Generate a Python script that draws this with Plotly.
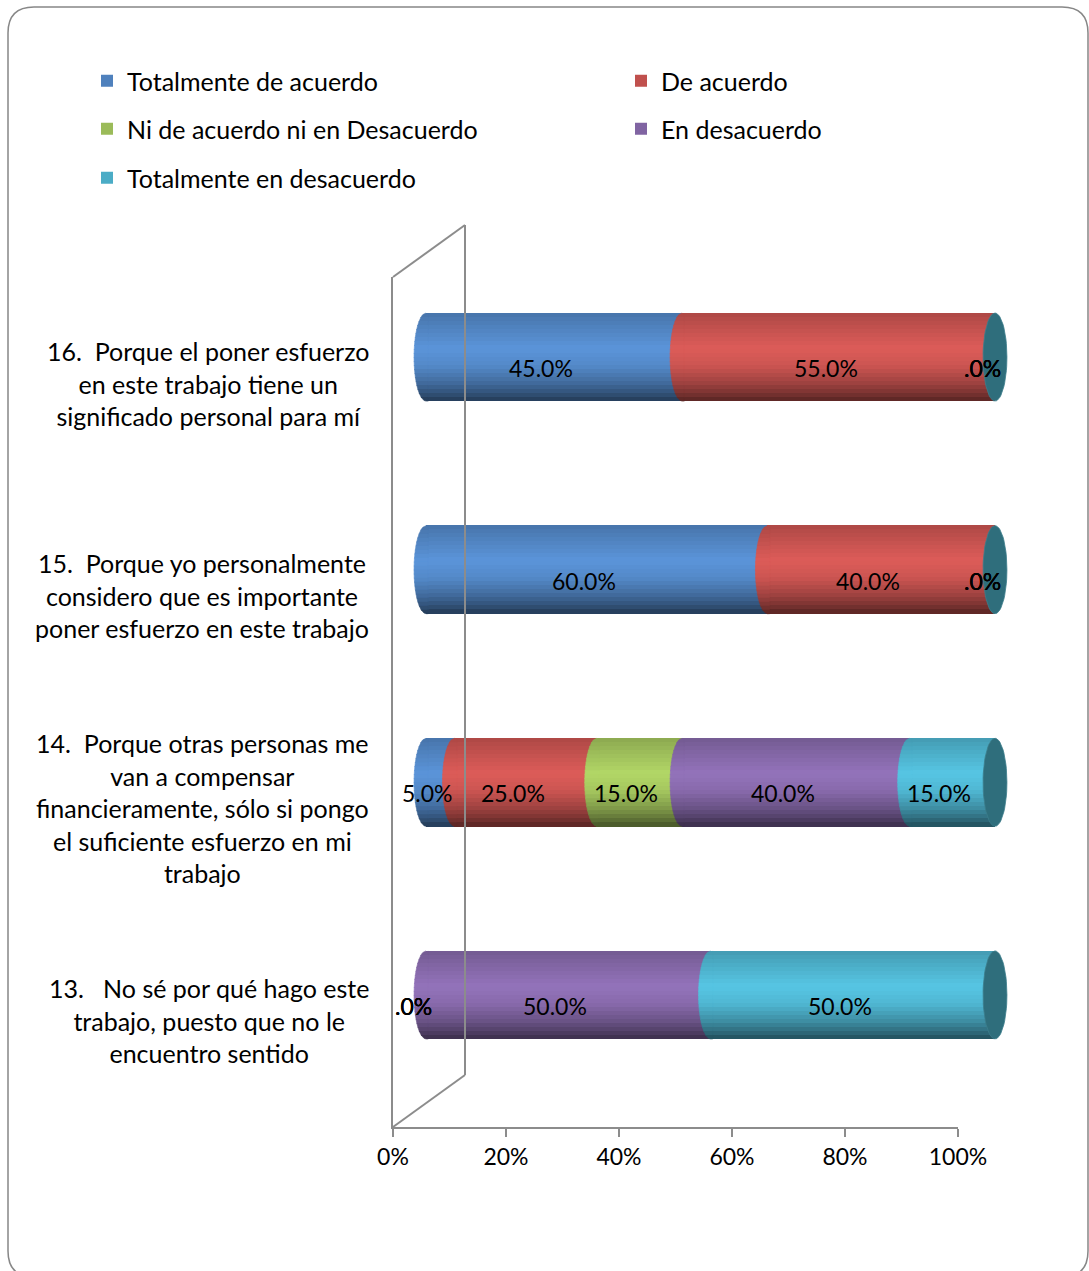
import math
import plotly.graph_objects as go

# ---- data -------------------------------------------------------------
categories = [
    "13.   No sé por qué hago este<br>trabajo, puesto que no le<br>encuentro sentido",
    "14.  Porque otras personas me<br>van a compensar<br>financieramente, sólo si pongo<br>el suficiente esfuerzo en mi<br>trabajo",
    "15.  Porque yo personalmente<br>considero que es importante<br>poner esfuerzo en este trabajo",
    "16.  Porque el poner esfuerzo<br>en este trabajo tiene un<br>significado personal para mí",
]
series_names = [
    "Totalmente de acuerdo",
    "De acuerdo",
    "Ni de acuerdo ni en Desacuerdo",
    "En desacuerdo",
    "Totalmente en desacuerdo",
]
totalmente_de_acuerdo = [0, 5, 60, 45]
de_acuerdo = [0, 25, 40, 55]
ni_de_acuerdo = [0, 15, 0, 0]
en_desacuerdo = [50, 40, 0, 0]
totalmente_en_desacuerdo = [50, 15, 0, 0]
series_values = [totalmente_de_acuerdo, de_acuerdo, ni_de_acuerdo,
                 en_desacuerdo, totalmente_en_desacuerdo]
x_ticks = [0, 20, 40, 60, 80, 100]

# ---- style ------------------------------------------------------------
W, H = 1089, 1271
FONT = "Lato"
base_colors = ["#4F81BD", "#C0504D", "#9BBB59", "#8064A2", "#4BACC6"]
cap_color = "#2F6E7C"
axis_grey = "#8C8C8C"
BAR_W = 0.414          # cylinder thickness in category units
N_BANDS = 22           # horizontal shading bands of each cylinder
CAP_A = 2.1            # half-width of the end ellipses, in % units
PAD = 4                # room (in % units) for the rounded ends


def px(x):
    return x / W


def py(y):
    return 1 - y / H


def hex_rgb(h):
    h = h.lstrip("#")
    return [int(h[i:i + 2], 16) for i in (0, 2, 4)]


# brightness profile across the cylinder, top (0) -> bottom (1)
profile = [(0.0, 0.90), (0.15, 1.0), (0.40, 1.15), (0.60, 1.06),
           (0.80, 0.82), (0.92, 0.62), (1.0, 0.45)]


def shade(color, t):
    k = 1.0
    for (t0, k0), (t1, k1) in zip(profile, profile[1:]):
        if t0 <= t <= t1:
            k = k0 + (k1 - k0) * (t - t0) / (t1 - t0)
            break
    r, g, b = [min(255, int(round(c * k))) for c in hex_rgb(color)]
    return f"rgb({r},{g},{b})"


# cumulative starts of every segment
starts = []
running = [0] * len(categories)
for vals in series_values:
    starts.append(list(running))
    running = [r + v for r, v in zip(running, vals)]
totals = running
cat_pos = list(range(len(categories)))

fig = go.Figure()

# full-height base bars (also the legend entries)
legend_ids = ["legend", "legend2", "legend3", "legend4", "legend5"]
for s, (name, vals) in enumerate(zip(series_names, series_values)):
    fig.add_trace(go.Bar(
        x=vals, y=cat_pos, base=starts[s], orientation="h", name=name,
        marker=dict(color=base_colors[s], line=dict(width=0)),
        width=BAR_W, offset=-BAR_W / 2, legend=legend_ids[s],
        hoverinfo="skip", xaxis="x", yaxis="y",
    ))

# shading bands over the bars
band_h = BAR_W / N_BANDS
for k in range(N_BANDS):
    t = (k + 0.5) / N_BANDS
    xs, ys, bs, cs = [], [], [], []
    for s, vals in enumerate(series_values):
        for c in cat_pos:
            if vals[c] > 0:
                xs.append(vals[c])
                ys.append(c)
                bs.append(starts[s][c])
                cs.append(shade(base_colors[s], t))
    fig.add_trace(go.Bar(
        x=xs, y=ys, base=bs, orientation="h", showlegend=False,
        marker=dict(color=cs, line=dict(width=0)),
        width=band_h * 1.15, offset=BAR_W / 2 - (k + 1) * band_h,
        hoverinfo="skip", xaxis="x", yaxis="y",
    ))

# curved front edge of each segment (left half of an ellipse), banded
half = BAR_W / 2
for s, vals in enumerate(series_values):
    for k in range(N_BANDS):
        t = (k + 0.5) / N_BANDS
        u_top = half - k * band_h
        u_bot = max(half - (k + 1) * band_h - band_h * 0.15, -half)
        px_list, py_list = [], []
        for c in cat_pos:
            if vals[c] <= 0:
                continue
            x0 = starts[s][c]
            steps = 6
            for i in range(steps + 1):
                u = u_top + (u_bot - u_top) * i / steps
                r = max(0.0, 1 - (u / half) ** 2)
                px_list.append(x0 - CAP_A * math.sqrt(r))
                py_list.append(c + u)
            px_list += [x0 + 0.4, x0 + 0.4, None]
            py_list += [c + u_bot, c + u_top, None]
        if not px_list:
            continue
        col = shade(base_colors[s], t)
        fig.add_trace(go.Scatter(
            x=px_list, y=py_list, mode="lines", fill="toself",
            fillcolor=col, line=dict(width=0.6, color=col),
            showlegend=False, hoverinfo="skip", xaxis="x", yaxis="y",
        ))

# end faces of the cylinders
ex, ey = [], []
for c in cat_pos:
    for i in range(61):
        a = 2 * math.pi * i / 60
        ex.append(totals[c] + CAP_A * math.cos(a))
        ey.append(c + half * math.sin(a))
    ex.append(None)
    ey.append(None)
fig.add_trace(go.Scatter(
    x=ex, y=ey, mode="lines", fill="toself", fillcolor=cap_color,
    line=dict(width=0.8, color="#3C7D8C"), showlegend=False,
    hoverinfo="skip", xaxis="x", yaxis="y",
))

# placeholder so the front axes are drawn
fig.add_trace(go.Scatter(x=[None], y=[None], xaxis="x2", yaxis="y2",
                         showlegend=False, hoverinfo="skip"))


def pct_label(v):
    # "#.0%" style: no leading zero
    txt = f"{v:.1f}%"
    return txt[1:] if txt.startswith("0") else txt


annotations = []
for s, vals in enumerate(series_values):
    for c in cat_pos:
        annotations.append(dict(
            x=starts[s][c] + vals[c] / 2, y=c, xref="x", yref="y",
            text=pct_label(vals[c]), showarrow=False, xshift=-13, yshift=-11,
            font=dict(family=FONT, size=23, color="#000000"),
        ))

for c, label in zip(cat_pos, categories):
    annotations.append(dict(
        x=px(371), y=c + 0.5, xref="paper", yref="y2", text=label,
        showarrow=False, xanchor="right", yanchor="middle", align="center",
        font=dict(family=FONT, size=25, color="#000000"),
    ))

# geometry of the front axes and of the 3-D back wall
FX0, FX1 = 393, 958        # front x axis extent (px)
FY0, FY1 = 277, 1127       # front y axis extent (px)
DX, DY = 72, -52           # depth offset of the back wall (px)
BX0, BX1 = 426, 995        # bar value axis: 0% and 100% (px)
bx_scale = (BX1 - BX0) / 100
bar_top = 357 - 212.5 * 0.5
bar_bot = 995 + 212.5 * 0.5

shapes = [
    dict(type="line", xref="paper", yref="paper",
         x0=px(FX0 + DX), y0=py(FY0 + DY), x1=px(FX0 + DX), y1=py(FY1 + DY),
         line=dict(color=axis_grey, width=2)),
    dict(type="line", xref="paper", yref="paper",
         x0=px(FX0), y0=py(FY0), x1=px(FX0 + DX), y1=py(FY0 + DY),
         line=dict(color=axis_grey, width=2)),
    dict(type="line", xref="paper", yref="paper",
         x0=px(FX0), y0=py(FY1), x1=px(FX0 + DX), y1=py(FY1 + DY),
         line=dict(color=axis_grey, width=2)),
]

# rounded outer frame
L, T, R, B, rr = 8, 7, 1088, 1277, 26
frame = (f"M {px(L + rr)},{py(T)} L {px(R - rr)},{py(T)} "
         f"Q {px(R)},{py(T)} {px(R)},{py(T + rr)} "
         f"L {px(R)},{py(B - rr)} Q {px(R)},{py(B)} {px(R - rr)},{py(B)} "
         f"L {px(L + rr)},{py(B)} Q {px(L)},{py(B)} {px(L)},{py(B - rr)} "
         f"L {px(L)},{py(T + rr)} Q {px(L)},{py(T)} {px(L + rr)},{py(T)} Z")
shapes.append(dict(type="path", path=frame, xref="paper", yref="paper",
                   line=dict(color="#878787", width=1.5), layer="below"))


def legend_box(x, y):
    return dict(x=px(x), y=py(y), orientation="h", xanchor="left",
                yanchor="middle", bgcolor="rgba(0,0,0,0)",
                font=dict(family=FONT, size=25, color="#000000"),
                itemclick=False, itemdoubleclick=False)


fig.update_layout(
    width=W, height=H,
    margin=dict(l=0, r=0, t=0, b=0, autoexpand=False),
    paper_bgcolor="#FFFFFF", plot_bgcolor="rgba(0,0,0,0)",
    barmode="overlay", bargap=0,
    font=dict(family=FONT, size=23, color="#000000"),
    xaxis=dict(domain=[px(BX0 - PAD * bx_scale), px(BX1 + PAD * bx_scale)],
               range=[-PAD, 100 + PAD], visible=False, fixedrange=True),
    yaxis=dict(domain=[py(bar_bot), py(bar_top)], range=[-0.5, 3.5],
               visible=False, fixedrange=True, anchor="x"),
    xaxis2=dict(domain=[px(FX0), px(FX1)], range=[0, 100], anchor="y2",
                tickvals=x_ticks, ticktext=[f"{v}%" for v in x_ticks],
                ticks="outside", ticklen=8, tickcolor=axis_grey, tickwidth=2,
                showline=True, linecolor=axis_grey, linewidth=2,
                showgrid=False, zeroline=False, fixedrange=True,
                tickfont=dict(family=FONT, size=23, color="#000000")),
    yaxis2=dict(domain=[py(FY1), py(FY0)], range=[0, 4], anchor="x2",
                showline=True, linecolor=axis_grey, linewidth=2,
                showticklabels=False, ticks="", showgrid=False,
                zeroline=False, fixedrange=True,
                minor=dict(tick0=0, dtick=1, ticks="outside", ticklen=8,
                           tickcolor=axis_grey, tickwidth=2, showgrid=False)),
    legend=legend_box(87, 81),
    legend2=legend_box(621, 81),
    legend3=legend_box(87, 129),
    legend4=legend_box(621, 129),
    legend5=legend_box(87, 178),
    annotations=annotations,
    shapes=shapes,
    showlegend=True,
)

fig.write_html("out.html")
